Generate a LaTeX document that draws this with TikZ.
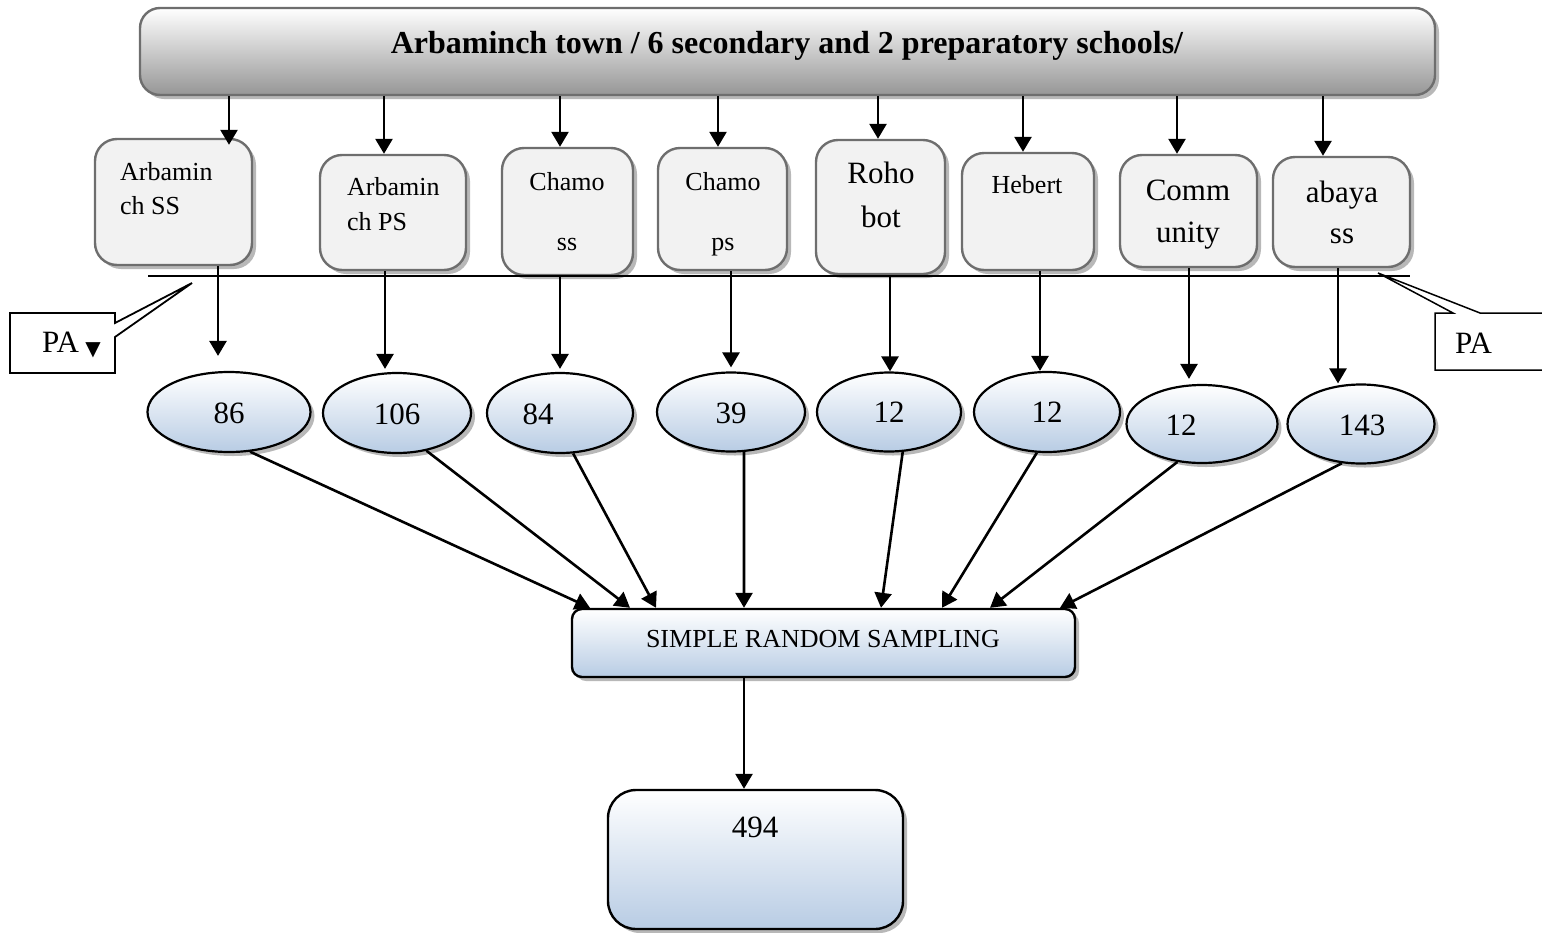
\documentclass[tikz,border=0pt]{standalone}
\usepackage{fontspec}
\setmainfont{Liberation Serif}
\newfontfamily\dejavu{DejaVu Sans}
\usetikzlibrary{arrows.meta,shapes.geometric,shadows}
\newcommand\szS{\fontsize{26}{30}\selectfont}
\newcommand\szL{\fontsize{31}{36}\selectfont}
\newcommand\szT{\fontsize{32}{38}\selectfont\bfseries}
\definecolor{boxgray}{HTML}{F2F2F2}
\definecolor{edgegray}{HTML}{6E6E6E}
\definecolor{lblue}{HTML}{B8CCE4}
\definecolor{topgray}{HTML}{969696}
\begin{document}
\begin{tikzpicture}[x=1pt,y=-1pt,
  every node/.style={inner sep=0pt},
  shad/.style={drop shadow={shadow xshift=4pt,shadow yshift=-4pt,fill=black,opacity=0.28}},
  topbar/.style={draw=edgegray,line width=2.4pt,rounded corners=20pt,top color=white,bottom color=topgray,shad,minimum width=1295pt,minimum height=87pt},
  school/.style={draw=edgegray,line width=2.4pt,fill=boxgray,rounded corners=22pt,shad},
  oval/.style={ellipse,draw=black,line width=2.2pt,top color=white,bottom color=lblue,shad},
  bluebox/.style={draw=black,line width=2.4pt,top color=white,bottom color=lblue,shad},
  txt/.style={anchor=base,inner sep=0pt},
  ltxt/.style={anchor=base west,inner sep=0pt},
  arr/.style={line width=2.6pt,-{Triangle[length=15pt,width=17pt]}},
]
\useasboundingbox (0,0) rectangle (1542,932);
\clip (0,0) rectangle (1542,932);

% top bar
\node[topbar] (top) at (787.5,51.5) {};
\node[txt] (title) at (787,53) {\szT Arbaminch town / 6 secondary and 2 preparatory schools/};

% school boxes
\node[school,minimum width=157pt,minimum height=126pt] (b1) at (173.5,202) {};
\node[school,minimum width=146pt,minimum height=115pt] (b2) at (393,212.5) {};
\node[school,minimum width=131pt,minimum height=127pt] (b3) at (567.5,211.5) {};
\node[school,minimum width=129pt,minimum height=122pt] (b4) at (722.5,209) {};
\node[school,minimum width=129pt,minimum height=134pt] (b5) at (880.5,207) {};
\node[school,minimum width=132pt,minimum height=117pt] (b6) at (1028,211.5) {};
\node[school,minimum width=137pt,minimum height=112pt] (b7) at (1188.5,211) {};
\node[school,minimum width=137pt,minimum height=110pt] (b8) at (1341.5,212) {};

\node[ltxt] (t1a) at (120,180) {\szS Arbamin};
\node[ltxt] (t1b) at (120,214) {\szS ch SS};
\node[ltxt] (t2a) at (347,195) {\szS Arbamin};
\node[ltxt] (t2b) at (347,230) {\szS ch PS};
\node[txt] (t3a) at (567,190) {\szS Chamo};
\node[txt] (t3b) at (567,250) {\szS ss};
\node[txt] (t4a) at (723,190) {\szS Chamo};
\node[txt] (t4b) at (723,250) {\szS ps};
\node[txt] (t5a) at (881,183) {\szL Roho};
\node[txt] (t5b) at (881,227) {\szL bot};
\node[txt] (t6a) at (1027,193) {\szS Hebert};
\node[txt] (t7a) at (1188,200) {\szL Comm};
\node[txt] (t7b) at (1188,242) {\szL unity};
\node[txt] (t8a) at (1342,202) {\szL abaya};
\node[txt] (t8b) at (1342,243) {\szL ss};

% horizontal line
\draw[line width=1.8pt] (148,276) -- (1410,276);

% ellipses
\node[oval,minimum width=163pt,minimum height=80pt] (e1) at (229,412) {};
\node[oval,minimum width=148pt,minimum height=80pt] (e2) at (397,413) {};
\node[oval,minimum width=146pt,minimum height=80pt] (e3) at (560,413) {};
\node[oval,minimum width=148pt,minimum height=79pt] (e4) at (731,412) {};
\node[oval,minimum width=144pt,minimum height=79pt] (e5) at (889,412) {};
\node[oval,minimum width=146pt,minimum height=80pt] (e6) at (1047,412) {};
\node[oval,minimum width=151pt,minimum height=78pt] (e7) at (1202,424) {};
\node[oval,minimum width=147pt,minimum height=79pt] (e8) at (1361,424) {};

\node[txt] (n1) at (229,423) {\szL 86};
\node[txt] (n2) at (397,424) {\szL 106};
\node[txt] (n3) at (538,424) {\szL 84};
\node[txt] (n4) at (731,423) {\szL 39};
\node[txt] (n5) at (889,422) {\szL 12};
\node[txt] (n6) at (1047,422) {\szL 12};
\node[txt] (n7) at (1181,435) {\szL 12};
\node[txt] (n8) at (1362,435) {\szL 143};

% SRS and result
\node[bluebox,rounded corners=10pt,minimum width=503pt,minimum height=68pt] (srs) at (823.5,643) {};
\node[txt] (srst) at (823,647) {\szS SIMPLE RANDOM SAMPLING};
\node[bluebox,rounded corners=28pt,minimum width=295pt,minimum height=139pt] (res) at (755.5,859.5) {};
\node[txt] (rest) at (755,837) {\szL 494};

% arrows top -> schools
\foreach \b/\x/\s in {b1/229/-7pt, b2/384/0pt, b3/560/0pt, b4/718/0pt, b5/878/0pt, b6/1023/0pt, b7/1177/0pt, b8/1323/0pt}
  \draw[arr,shorten >=\s] (top.south -| \x,0) -- (\b.north -| \x,0);

% arrows schools -> ellipses
\foreach \b/\e/\x/\s in {b1/e1/218/15pt, b2/e2/385/3pt, b3/e3/560/3pt, b4/e4/731/4pt, b5/e5/890/0pt, b6/e6/1040/0pt, b7/e7/1189/5pt, b8/e8/1338/0pt}
  \draw[arr,shorten >=\s] (\b.south -| \x,0) -- (\e.north -| \x,0);

% arrows ellipses -> SRS
\foreach \e/\a/\x in {e1/-62/590, e2/-52/630, e3/-72/656, e4/-72/744, e5/-71/881, e6/-104/942, e7/-123/990, e8/-116/1060}
  \draw[arr] (\e.\a) -- (srs.north -| \x,0);

\draw[arr] (srs.south -| 744,0) -- (res.north -| 744,0);

% PA callouts
\draw[line width=1.8pt,fill=white] (10,313) -- (115,313) -- (115,323) -- (192,283) -- (115,337) -- (115,373) -- (10,373) -- cycle;
\node[ltxt] (pal) at (42,352) {\szL PA};
\node (tri) at (93,350) {\dejavu\fontsize{20}{20}\selectfont ▼};
\draw[line width=1.5pt,fill=white] (1550,313) -- (1480,313) -- (1378,273) -- (1453,313) -- (1435,313) -- (1435,370) -- (1550,370);
\node[ltxt] (par) at (1455,353) {\szL PA};
\end{tikzpicture}
\end{document}
